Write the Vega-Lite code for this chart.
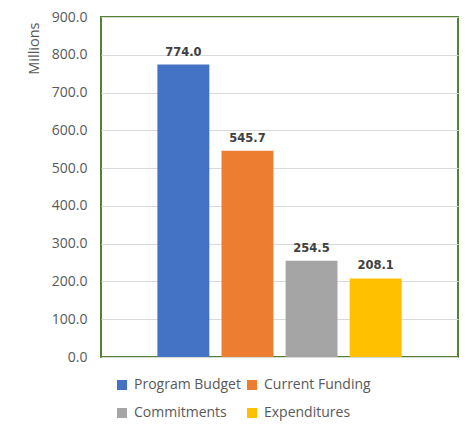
{
  "$schema": "https://vega.github.io/schema/vega-lite/v6.json",
  "width": 357,
  "height": 340,
  "autosize": {"type": "none"},
  "padding": {"left": 101, "top": 17, "right": 13, "bottom": 77},
  "background": "white",
  "data": {
    "values": [
      {"category": "Program Budget", "value": 774.0},
      {"category": "Current Funding", "value": 545.7},
      {"category": "Commitments", "value": 254.5},
      {"category": "Expenditures", "value": 208.1}
    ]
  },
  "encoding": {
    "x": {
      "field": "category",
      "type": "nominal",
      "sort": null,
      "axis": null,
      "scale": {"paddingInner": 0.19, "paddingOuter": 0.88}
    },
    "y": {
      "field": "value",
      "type": "quantitative",
      "scale": {"domain": [0, 900], "nice": false},
      "axis": {
        "values": [0, 100, 200, 300, 400, 500, 600, 700, 800, 900],
        "format": ".1f",
        "title": "Millions",
        "titleAnchor": "end",
        "titleFont": "Open Sans",
        "titleFontSize": 14.5,
        "titleFontWeight": "normal",
        "titleColor": "#595959",
        "titlePadding": 10,
        "titleY": 5,
        "labelFont": "Open Sans",
        "labelFontSize": 14,
        "labelColor": "#595959",
        "labelPadding": 14,
        "ticks": false,
        "domain": false,
        "grid": true,
        "gridColor": "#d9d9d9",
        "gridWidth": 1
      }
    }
  },
  "layer": [
    {
      "mark": {"type": "bar"},
      "encoding": {
        "color": {
          "field": "category",
          "type": "nominal",
          "sort": null,
          "scale": {
            "domain": ["Program Budget", "Current Funding", "Commitments", "Expenditures"],
            "range": ["#4472C4", "#ED7D31", "#A5A5A5", "#FFC000"]
          },
          "legend": {
            "orient": "none",
            "legendX": 14,
            "legendY": 361,
            "direction": "horizontal",
            "columns": 2,
            "title": null,
            "symbolType": "square",
            "symbolSize": 100,
            "symbolStrokeWidth": 0,
            "symbolOpacity": 1,
            "labelFont": "Open Sans",
            "labelFontSize": 14,
            "labelColor": "#595959",
            "columnPadding": 4,
            "rowPadding": 14,
            "labelOffset": 5
          }
        }
      }
    },
    {
      "mark": {
        "type": "text",
        "baseline": "alphabetic",
        "dy": -9,
        "font": "DejaVu Sans",
        "fontWeight": "bold",
        "fontSize": 11.5,
        "color": "#404040"
      },
      "encoding": {
        "text": {"field": "value", "type": "quantitative", "format": ".1f"}
      }
    }
  ],
  "config": {
    "view": {"stroke": "#548235", "strokeWidth": 2}
  }
}
